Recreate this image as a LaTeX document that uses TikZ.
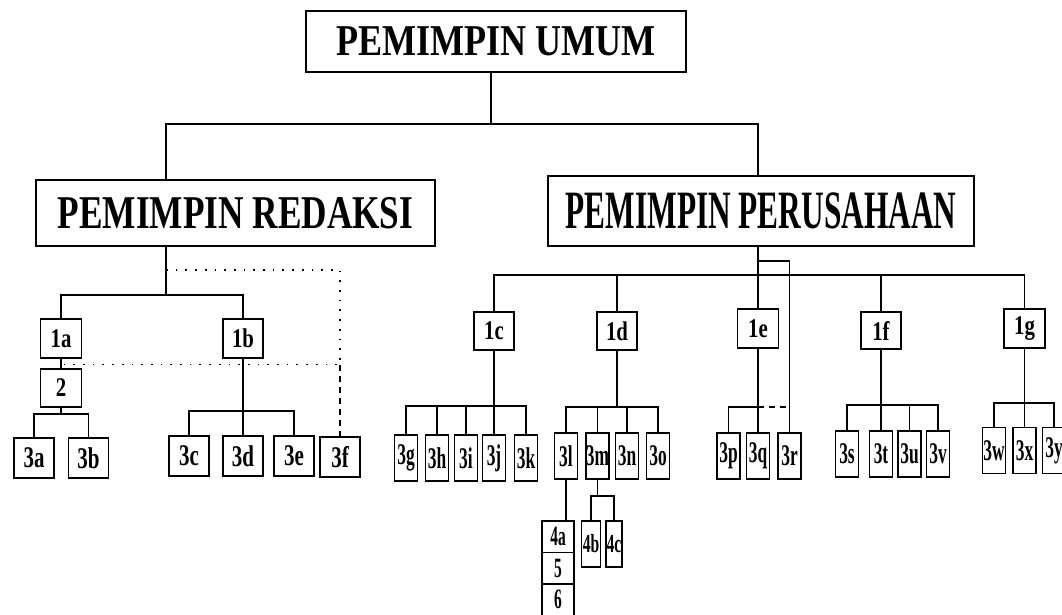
\documentclass[tikz,border=0pt]{standalone}
\usepackage{fontspec}
\usepackage{graphicx}
\usepackage{tikz}
\newfontfamily\orgfont{Liberation Serif}
\newcommand{\sq}[2]{\scalebox{#1}[1]{#2}}

\tikzset{
  kotak/.style={draw, line width=1.5pt, inner sep=0pt, font=\orgfont\bfseries},
  judul/.style={kotak, font=\orgfont\bfseries\fontsize{#1}{#1}\selectfont},
  satu/.style={kotak, minimum width=41pt, minimum height=39pt,
    font=\orgfont\bfseries\fontsize{27}{27}\selectfont},
  tigalebar/.style={kotak, minimum width=40pt, minimum height=40pt,
    font=\orgfont\bfseries\fontsize{30}{30}\selectfont},
  tigasempit/.style={kotak, minimum width=23pt, minimum height=46pt,
    font=\orgfont\bfseries\fontsize{30}{30}\selectfont},
  empat/.style={kotak, minimum width=18pt, minimum height=46pt,
    font=\orgfont\bfseries\fontsize{26}{26}\selectfont},
  tumpuk/.style={kotak, minimum width=32pt, minimum height=31.5pt,
    font=\orgfont\bfseries\fontsize{28}{28}\selectfont},
  garis/.style={line width=1.3pt},
  titik/.style={line width=1.7pt, dash pattern=on 1.7pt off 8pt},
  putus/.style={line width=1.3pt, dash pattern=on 6pt off 5pt}
}

\begin{document}
\begin{tikzpicture}[x=1pt,y=-1pt]
  \useasboundingbox (0,0) rectangle (1062,615);

  % pimpinan
  \node[judul=44, minimum width=380pt, minimum height=61pt] (umum) at (496,41.5) {\sq{0.82}{PEMIMPIN UMUM}};
  \node[judul=47, minimum width=399pt, minimum height=66pt] (redaksi) at (235.5,213) {\sq{0.75}{PEMIMPIN REDAKSI}};
  \node[judul=54, minimum width=426pt, minimum height=70pt] (perusahaan) at (761,211) {\sq{0.58}{PEMIMPIN PERUSAHAAN}};

  % redaksi
  \node[satu] (n1a) at (61,338.5) {\sq{0.77}{1a}};
  \node[satu, minimum width=40pt] (n1b) at (243,338.5) {\sq{0.77}{1b}};
  \node[satu, minimum height=38pt] (n2) at (61,388) {\sq{0.77}{2}};
  \node[tigalebar] (n3a) at (34,458) {\sq{0.7}{3a}};
  \node[tigalebar] (n3b) at (88.5,458) {\sq{0.7}{3b}};
  \node[tigalebar] (n3c) at (189,456) {\sq{0.7}{3c}};
  \node[tigalebar] (n3d) at (243,456) {\sq{0.7}{3d}};
  \node[tigalebar] (n3e) at (294,456) {\sq{0.7}{3e}};
  \node[tigalebar] (n3f) at (340,457) {\sq{0.7}{3f}};

  % perusahaan
  \node[satu, minimum width=40pt, minimum height=38pt] (n1c) at (494,331) {\sq{0.77}{1c}};
  \node[satu, minimum width=40pt, minimum height=38pt] (n1d) at (617,331) {\sq{0.77}{1d}};
  \node[satu] (n1e) at (758,328.5) {\sq{0.77}{1e}};
  \node[satu, minimum width=40pt, minimum height=37pt] (n1f) at (881,330.5) {\sq{0.77}{1f}};
  \node[satu] (n1g) at (1024.5,328.5) {\sq{0.77}{1g}};

  \node[tigasempit] (n3g) at (406,458) {\sq{0.58}{3g}};
  \node[tigasempit] (n3h) at (437,458) {\sq{0.58}{3h}};
  \node[tigasempit] (n3i) at (466,458) {\sq{0.58}{3i}};
  \node[tigasempit] (n3j) at (494,458) {\sq{0.58}{3j}};
  \node[tigasempit] (n3k) at (526,458) {\sq{0.58}{3k}};

  \node[tigasempit] (n3l) at (566,456) {\sq{0.58}{3l}};
  \node[tigasempit] (n3m) at (597.5,456) {\sq{0.58}{3m}};
  \node[tigasempit] (n3n) at (627,456) {\sq{0.58}{3n}};
  \node[tigasempit] (n3o) at (658,456) {\sq{0.58}{3o}};

  \node[tumpuk] (n4a) at (558,536.5) {\sq{0.55}{4a}};
  \node[tumpuk] (n5) at (558,568) {\sq{0.55}{5}};
  \node[tumpuk] (n6) at (558,599.5) {\sq{0.55}{6}};
  \node[empat, minimum width=19pt] (n4b) at (591,544) {\sq{0.6}{4b}};
  \node[empat, minimum width=16pt] (n4c) at (614,544) {\sq{0.6}{4c}};

  \node[tigasempit] (n3p) at (728.5,456) {\sq{0.58}{3p}};
  \node[tigasempit] (n3q) at (758,456) {\sq{0.58}{3q}};
  \node[tigasempit] (n3r) at (789.5,456) {\sq{0.58}{3r}};

  \node[tigasempit] (n3s) at (847,454) {\sq{0.58}{3s}};
  \node[tigasempit] (n3t) at (881,454) {\sq{0.58}{3t}};
  \node[tigasempit] (n3u) at (909.5,454) {\sq{0.58}{3u}};
  \node[tigasempit] (n3v) at (938,454) {\sq{0.58}{3v}};

  \node[tigasempit] (n3w) at (994,450.5) {\sq{0.58}{3w}};
  \node[tigasempit] (n3x) at (1024.5,450.5) {\sq{0.58}{3x}};
  \node[tigasempit] (n3y) at (1054,450.5) {\sq{0.58}{3y}};

  % titik cabang
  \coordinate (jtop) at (491,124);
  \coordinate (jred) at (166,295);
  \coordinate (jper) at (758,275);
  \coordinate (jloop) at (758,261);
  \coordinate (dA) at (166,270);
  \coordinate (dB) at (61,364.5);
  \coordinate (j2) at (61,414);
  \coordinate (j1b) at (243,411);
  \coordinate (j1c) at (494,406);
  \coordinate (j1d) at (617,407);
  \coordinate (j3m) at (597.5,496);
  \coordinate (j1e) at (758,407);
  \coordinate (j1f) at (881,405);
  \coordinate (j1g) at (1024.5,403);

  % garis atas
  \draw[garis] (jtop |- umum.south) -- (jtop);
  \draw[garis] (jred |- redaksi.north) |- (jtop) -| (n1e |- perusahaan.north);

  % garis redaksi
  \draw[garis] (jred |- redaksi.south) -- (jred);
  \draw[garis] (n1a.north) |- (jred) -| (n1b.north);
  \draw[titik] (dA) -| (n3f.north |- dB) -- (dB);
  \draw[putus] (n3f.north |- dB) -- (n3f.north);
  \draw[garis] (n1a) -- (n2);
  \draw[garis] (n2) -- (j2);
  \draw[garis] (n3a.north) |- (j2) -| (n3b.north);
  \draw[garis] (n1b) -- (n3d);
  \draw[garis] (n3c.north) |- (j1b) -| (n3e.north);

  % garis perusahaan
  \draw[garis] (n1e |- perusahaan.south) -- (n1e);
  \draw[garis] (jloop) -| (n3r.north);
  \draw[garis] (n1c.north) |- (jper) -| (n1g.north);
  \draw[garis] (n1d.north) -- (n1d.north |- jper);
  \draw[garis] (n1f.north) -- (n1f.north |- jper);

  \draw[garis] (n1c) -- (n3j);
  \draw[garis] (n3g.north) |- (j1c) -| (n3k.north);
  \draw[garis] (n3h.north) -- (n3h.north |- j1c);
  \draw[garis] (n3i.north) -- (n3i.north |- j1c);

  \draw[garis] (n1d) -- (j1d);
  \draw[garis] (n3l.north) |- (j1d) -| (n3o.north);
  \draw[garis] (n3m.north) -- (n3m.north |- j1d);
  \draw[garis] (n3n.north) -- (n3n.north |- j1d);
  \draw[garis] (n3l.south) -- (n3l.south |- n4a.north);
  \draw[garis] (n3m) -- (j3m);
  \draw[garis] (n4b.north) |- (j3m) -| (n4c.north);

  \draw[garis] (n1e) -- (n3q);
  \draw[garis] (n3p.north) |- (j1e);
  \draw[putus] (j1e) -- (j1e -| n3r.north);

  \draw[garis] (n1f) -- (n3t);
  \draw[garis] (n3s.north) |- (j1f) -| (n3v.north);
  \draw[garis] (n3u.north) -- (n3u.north |- j1f);

  \draw[garis] (n1g) -- (n3x);
  \draw[garis] (n3w.north) |- (j1g) -| (n3y.north);
\end{tikzpicture}
\end{document}
